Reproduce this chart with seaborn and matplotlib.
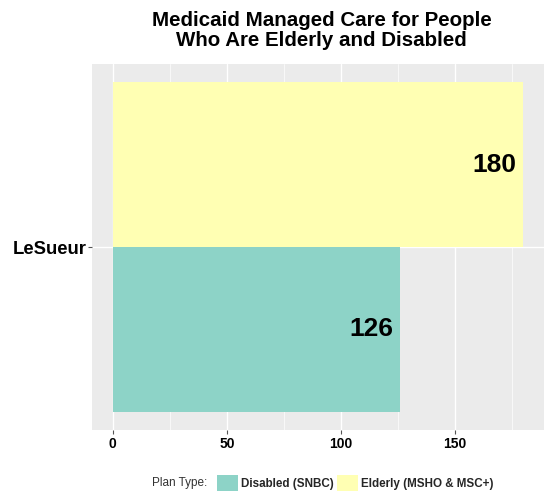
import pandas as pd
import numpy as np
import matplotlib.pyplot as plt
import seaborn as sns
from matplotlib.patches import Patch

# data
county = ["LeSueur", "LeSueur"]
plan_type = ["Disabled (SNBC)", "Elderly (MSHO & MSC+)"]
enrollees = [126, 180]
plan_colors = ["#8DD3C7", "#FFFFB3"]

df = pd.DataFrame({"County": county, "Plan Type": plan_type, "Enrollees": enrollees})
palette = dict(zip(plan_type, plan_colors))

sns.set_style("darkgrid", {"axes.facecolor": "#EBEBEB", "grid.color": "white"})
plt.rcParams["font.family"] = ["Liberation Sans", "DejaVu Sans"]

fig = plt.figure(figsize=(5.45, 4.95), dpi=100)
ax = fig.add_axes([0.1694, 0.1313, 0.8286, 0.7394])

# Elderly drawn on top, Disabled below (as in the original)
sns.barplot(data=df, x="Enrollees", y="County", hue="Plan Type",
            hue_order=plan_type[::-1], palette=palette, orient="h",
            width=0.9, saturation=1, legend=False, linewidth=0, ax=ax)

ax.set_xlim(-9, 189)
ax.set_ylim(0.5, -0.5)
ax.set_xticks([0, 50, 100, 150])
ax.set_xticks([25, 75, 125, 175], minor=True)
ax.grid(True, which="major", color="white", linewidth=1.0)
ax.grid(True, which="minor", axis="x", color="white", linewidth=0.5)
ax.set_axisbelow(True)
for s in ax.spines.values():
    s.set_visible(False)

ax.set_xlabel("")
ax.set_ylabel("")
ax.tick_params(axis="both", which="major", bottom=True, left=True, length=3,
               width=0.8, color="#555555", direction="out", pad=2)
ax.tick_params(axis="y", pad=1)
ax.tick_params(axis="both", which="minor", length=0)
for lbl in ax.get_xticklabels():
    lbl.set_fontsize(10)
    lbl.set_fontweight("bold")
    lbl.set_color("black")
for lbl in ax.get_yticklabels():
    lbl.set_fontsize(13.3)
    lbl.set_fontweight("bold")
    lbl.set_color("black")

# value labels inside bar ends
for bars in ax.containers:
    for b in bars:
        w = b.get_width()
        ax.text(w - 3, b.get_y() + b.get_height() / 2, f"{int(w)}",
                ha="right", va="center", fontsize=19, fontweight="bold", color="black")

fig.text(0.59, 0.978, "Medicaid Managed Care for People\nWho Are Elderly and Disabled",
         ha="center", va="top", fontsize=14.8, fontweight="bold", color="black",
         linespacing=1.05)

# legend at the bottom
fig.text(0.38, 0.024, "Plan Type:", ha="right", va="center", fontsize=8.5, color="#333333")
handles = [Patch(facecolor=c, edgecolor="none") for c in plan_colors]
fig.legend(handles, plan_type, loc="center left", bbox_to_anchor=(0.388, 0.024),
           ncol=2, frameon=False, handlelength=1.75, handleheight=1.75,
           handletextpad=0.3, columnspacing=0.3, borderpad=0,
           prop={"size": 8.4, "weight": "bold"})

plt.savefig("out.png", dpi=100)
